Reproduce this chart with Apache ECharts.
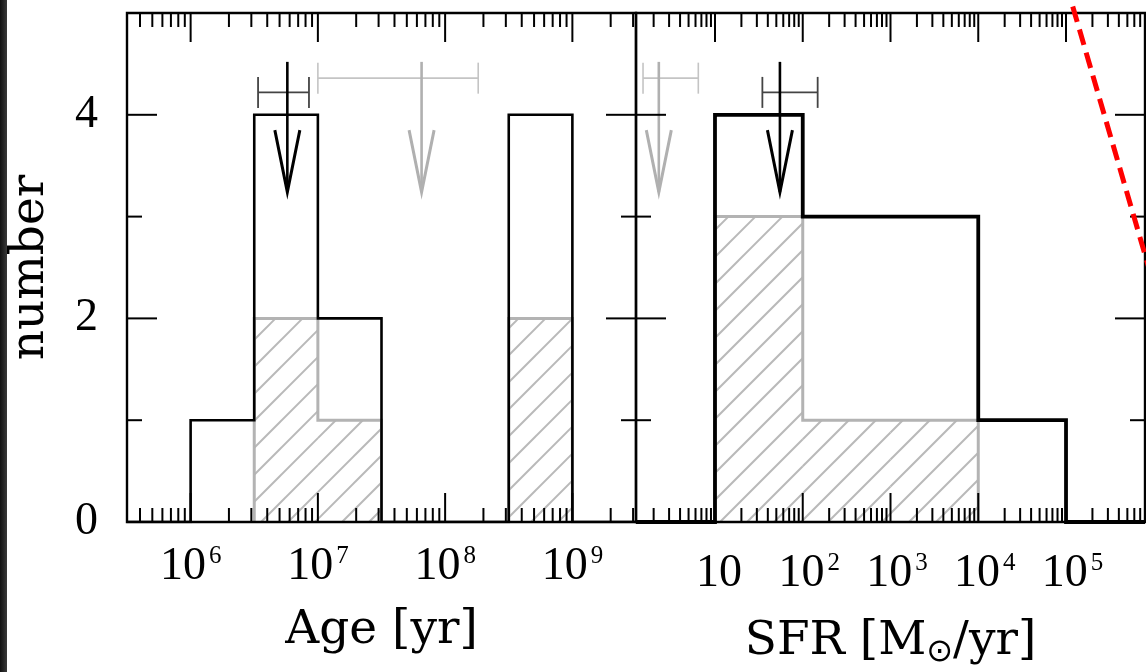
<!DOCTYPE html>
<html>
<head>
<meta charset="utf-8">
<script src="https://cdn.jsdelivr.net/npm/echarts@6/dist/echarts.min.js"></script>
<style>
html,body{margin:0;padding:0;background:#fff;}
#main{width:1146px;height:672px;}
</style>
</head>
<body>
<div id="main"></div>
<script>
// ---------- data (x values are log10) ----------
const Y_MAX = 5;
const yTickLabels = [0, 2, 4];

// Age panel
const ageRange = [5.5, 9.5];
const ageDecades = [6, 7, 8, 9];
const ageEdges = [6.0, 6.5, 7.0, 7.5, 8.0, 8.5, 9.0];
const ageAll = [1, 4, 2, 0, 0, 4];
const ageSub = [0, 2, 1, 0, 0, 2];

// SFR panel
const sfrRange = [0.1, 5.9];
const sfrDecades = [1, 2, 3, 4, 5];
const sfrEdges = [1, 2, 3, 4, 5];
const sfrAll = [4, 3, 3, 1];
const sfrSub = [3, 1, 1, 0];

// upper limits: [x, xlo, xhi, yErrorbar, yTop, yTip]
const ageLimBlack = [[6.76, 6.53, 6.93, 4.22, 4.52, 3.24]];
const ageLimGray  = [[7.815, 7.0, 8.26, 4.36, 4.52, 3.24]];
const sfrLimBlack = [[1.74, 1.54, 2.17, 4.22, 4.52, 3.24]];
const sfrLimGray  = [[0.36, 0.18, 0.81, 4.36, 4.52, 3.24]];

// red dashed relation (log SFR, number)
const redLine = [[5.0, 5.29], [6.0, 2.33]];

// ---------- helpers ----------
function stepLine(edges, counts, xmin, xmax) {
  const pts = [[xmin, 0], [edges[0], 0]];
  for (let i = 0; i < counts.length; i++) {
    pts.push([edges[i], counts[i]]);
    pts.push([edges[i + 1], counts[i]]);
  }
  pts.push([edges[edges.length - 1], 0]);
  pts.push([xmax, 0]);
  return pts;
}
function stepRuns(edges, counts) {
  const pts = [];
  let i = 0;
  while (i < counts.length) {
    if (counts[i] <= 0) { i++; continue; }
    pts.push([edges[i], 0]);
    while (i < counts.length && counts[i] > 0) {
      pts.push([edges[i], counts[i]]);
      pts.push([edges[i + 1], counts[i]]);
      i++;
    }
    pts.push([edges[i], 0]);
    pts.push('-');
  }
  return pts;
}
function hatchBins(edges, counts) {
  const out = [];
  counts.forEach((c, i) => { if (c > 0) out.push([edges[i], edges[i + 1], c]); });
  return out;
}
const HATCH_SP = 27;
function renderHatch(params, api) {
  const p0 = api.coord([api.value(0), 0]);
  const p1 = api.coord([api.value(1), api.value(2)]);
  const L = Math.min(p0[0], p1[0]), R = Math.max(p0[0], p1[0]);
  const T = Math.min(p0[1], p1[1]), B = Math.max(p0[1], p1[1]);
  const children = [];
  for (let k = Math.ceil((L + T) / HATCH_SP) * HATCH_SP; k <= R + B; k += HATCH_SP) {
    const xa = Math.max(L, k - B), xb = Math.min(R, k - T);
    if (xb - xa < 0.5) continue;
    children.push({type: 'line', shape: {x1: xa, y1: k - xa, x2: xb, y2: k - xb},
      style: {stroke: '#b9b9b9', lineWidth: 2}});
  }
  return {type: 'group', children};
}
function renderLimit(color, barColor, barWidth) {
  return function (params, api) {
    const x = api.value(0), xlo = api.value(1), xhi = api.value(2);
    const ye = api.value(3), yt = api.value(4), yp = api.value(5);
    const top = api.coord([x, yt]), tip = api.coord([x, yp]);
    const a = api.coord([xlo, ye]), b = api.coord([xhi, ye]);
    const cap = 15.5, armW = 12.5, armH = 62;
    const ls = {stroke: color, lineWidth: 2.6, lineCap: 'butt'};
    const es = {stroke: barColor, lineWidth: barWidth};
    return {type: 'group', children: [
      {type: 'line', shape: {x1: a[0], y1: a[1], x2: b[0], y2: b[1]}, style: es},
      {type: 'line', shape: {x1: a[0], y1: a[1] - cap, x2: a[0], y2: a[1] + cap}, style: es},
      {type: 'line', shape: {x1: b[0], y1: b[1] - cap, x2: b[0], y2: b[1] + cap}, style: es},
      {type: 'line', shape: {x1: top[0], y1: top[1], x2: tip[0], y2: tip[1]}, style: ls},
      {type: 'polyline', shape: {points: [[tip[0] - armW, tip[1] - armH], [tip[0], tip[1]], [tip[0] + armW, tip[1] - armH]]},
        style: {stroke: color, lineWidth: 3, fill: null, lineJoin: 'miter'}}
    ]};
  };
}
function logTicks(range) {
  const major = [], minor = [];
  for (let d = Math.floor(range[0]); d <= Math.ceil(range[1]); d++) {
    if (d >= range[0] && d <= range[1]) major.push(d);
    for (let k = 2; k <= 9; k++) {
      const v = d + Math.log10(k);
      if (v > range[0] && v < range[1]) minor.push(v);
    }
  }
  return {major, minor};
}
function renderFrame(range) {
  const t = logTicks(range);
  return function (params, api) {
    const lb = api.coord([range[0], 0]), rt = api.coord([range[1], Y_MAX]);
    const L = lb[0], B = lb[1], R = rt[0], T = rt[1];
    const st = {stroke: '#000', lineWidth: 2};
    const ch = [{type: 'rect', shape: {x: L, y: T, width: R - L, height: B - T},
      style: {fill: null, stroke: '#000', lineWidth: 2.4}}];
    const xt = (v, len) => {
      const x = api.coord([v, 0])[0];
      ch.push({type: 'line', shape: {x1: x, y1: B, x2: x, y2: B - len}, style: st});
      ch.push({type: 'line', shape: {x1: x, y1: T, x2: x, y2: T + len}, style: st});
    };
    const yt = (v, len) => {
      const y = api.coord([range[0], v])[1];
      ch.push({type: 'line', shape: {x1: L, y1: y, x2: L + len, y2: y}, style: st});
      ch.push({type: 'line', shape: {x1: R, y1: y, x2: R - len, y2: y}, style: st});
    };
    t.major.forEach(v => xt(v, 29));
    t.minor.forEach(v => xt(v, 14));
    [2, 4].forEach(v => yt(v, 30));
    [1, 3].forEach(v => yt(v, 15));
    return {type: 'group', children: ch};
  };
}

const numFont = 'Liberation Serif';
const txtFont = 'DejaVu Serif';
const richLab = {
  b: {fontFamily: numFont, fontSize: 46, lineHeight: 46, color: '#000'},
  s: {fontFamily: numFont, fontSize: 25, lineHeight: 28, verticalAlign: 'top', color: '#000', padding: [0, 0, 0, 3]},
  p1: {width: 8, height: 1},
  p2: {width: 13, height: 1}
};

const chart = echarts.init(document.getElementById('main'), null, {renderer: 'canvas'});
const option = {
  animation: false,
  backgroundColor: '#ffffff',
  graphic: [{
    type: 'rect', left: 0, top: 0, z: 100,
    shape: {width: 7, height: 672},
    style: {fill: new echarts.graphic.LinearGradient(0, 0, 1, 0, [{offset: 0, color: '#111'}, {offset: 1, color: '#3a3a3a'}])}
  }],
  grid: [
    {left: 127, right: 510, top: 13, bottom: 150, containLabel: false, outerBoundsMode: 'none'},
    {left: 636, right: 1, top: 13, bottom: 150, containLabel: false, outerBoundsMode: 'none'}
  ],
  xAxis: [
    {gridIndex: 0, type: 'value', min: ageRange[0], max: ageRange[1],
      axisLine: {show: false}, axisTick: {show: false}, splitLine: {show: false},
      axisLabel: {customValues: ageDecades, margin: 22, rich: richLab,
        formatter: v => '{b|10}{s|' + Math.round(v) + '}'},
      name: 'Age [yr]', nameLocation: 'middle', nameGap: 84,
      nameTextStyle: {fontFamily: txtFont, fontSize: 47, color: '#000', lineHeight: 50}},
    {gridIndex: 1, type: 'value', min: sfrRange[0], max: sfrRange[1],
      axisLine: {show: false}, axisTick: {show: false}, splitLine: {show: false},
      axisLabel: {customValues: sfrDecades, margin: 29, rich: richLab,
        formatter: v => Math.round(v) === 1 ? '{p1|}{b|10}' : '{p2|}{b|10}{s|' + Math.round(v) + '}'},
      name: 'SFR [M{sub|⊙}/yr]', nameLocation: 'middle', nameGap: 95,
      nameTextStyle: {fontFamily: txtFont, fontSize: 47, color: '#000', lineHeight: 50,
        rich: {sub: {fontFamily: 'DejaVu Sans', fontSize: 32, lineHeight: 50, padding: [22, 0, 0, 0], color: '#000'}}}}
  ],
  yAxis: [
    {gridIndex: 0, type: 'value', min: 0, max: Y_MAX, interval: 1,
      axisLine: {show: false}, axisTick: {show: false}, splitLine: {show: false},
      axisLabel: {customValues: yTickLabels, margin: 29, fontFamily: numFont, fontSize: 46, color: '#000'},
      name: 'number', nameLocation: 'middle', nameRotate: 90, nameGap: 71,
      nameTextStyle: {fontFamily: txtFont, fontSize: 47, color: '#000', lineHeight: 50}},
    {gridIndex: 1, type: 'value', min: 0, max: Y_MAX, interval: 1,
      axisLine: {show: false}, axisTick: {show: false}, splitLine: {show: false},
      axisLabel: {show: false}}
  ],
  series: [
    {type: 'custom', xAxisIndex: 0, yAxisIndex: 0, z: 2, renderItem: renderHatch, data: hatchBins(ageEdges, ageSub)},
    {type: 'custom', xAxisIndex: 1, yAxisIndex: 1, z: 2, renderItem: renderHatch, data: hatchBins(sfrEdges, sfrSub)},
    {type: 'line', xAxisIndex: 0, yAxisIndex: 0, z: 3, symbol: 'none', data: stepRuns(ageEdges, ageSub),
      lineStyle: {color: '#b3b3b3', width: 3, join: 'miter', cap: 'butt'}},
    {type: 'line', xAxisIndex: 1, yAxisIndex: 1, z: 3, symbol: 'none', data: stepRuns(sfrEdges, sfrSub),
      lineStyle: {color: '#b3b3b3', width: 3, join: 'miter', cap: 'butt'}},
    {type: 'line', xAxisIndex: 0, yAxisIndex: 0, z: 4, symbol: 'none', data: stepLine(ageEdges, ageAll, ageRange[0], ageRange[1]),
      lineStyle: {color: '#000', width: 2.6, join: 'miter', cap: 'butt'}},
    {type: 'line', xAxisIndex: 1, yAxisIndex: 1, z: 4, symbol: 'none', data: stepLine(sfrEdges, sfrAll, sfrRange[0], sfrRange[1]),
      lineStyle: {color: '#000', width: 3.8, join: 'miter', cap: 'butt'}},
    {type: 'custom', xAxisIndex: 0, yAxisIndex: 0, z: 5, renderItem: renderLimit('#b0b0b0', '#c4c4c4', 1.6), data: ageLimGray},
    {type: 'custom', xAxisIndex: 0, yAxisIndex: 0, z: 5, renderItem: renderLimit('#000', '#444', 1.8), data: ageLimBlack},
    {type: 'custom', xAxisIndex: 1, yAxisIndex: 1, z: 5, renderItem: renderLimit('#b0b0b0', '#c4c4c4', 1.6), data: sfrLimGray},
    {type: 'custom', xAxisIndex: 1, yAxisIndex: 1, z: 5, renderItem: renderLimit('#000', '#444', 1.8), data: sfrLimBlack},
    {type: 'custom', xAxisIndex: 0, yAxisIndex: 0, z: 6, renderItem: renderFrame(ageRange), data: [[ageRange[0], 0]]},
    {type: 'custom', xAxisIndex: 1, yAxisIndex: 1, z: 6, renderItem: renderFrame(sfrRange), data: [[sfrRange[0], 0]]},
    {type: 'line', xAxisIndex: 1, yAxisIndex: 1, z: 7, symbol: 'none', clip: false, data: redLine,
      lineStyle: {color: '#ff0000', width: 5, type: [16, 8]}}
  ]
};
chart.setOption(option);
</script>
</body>
</html>
